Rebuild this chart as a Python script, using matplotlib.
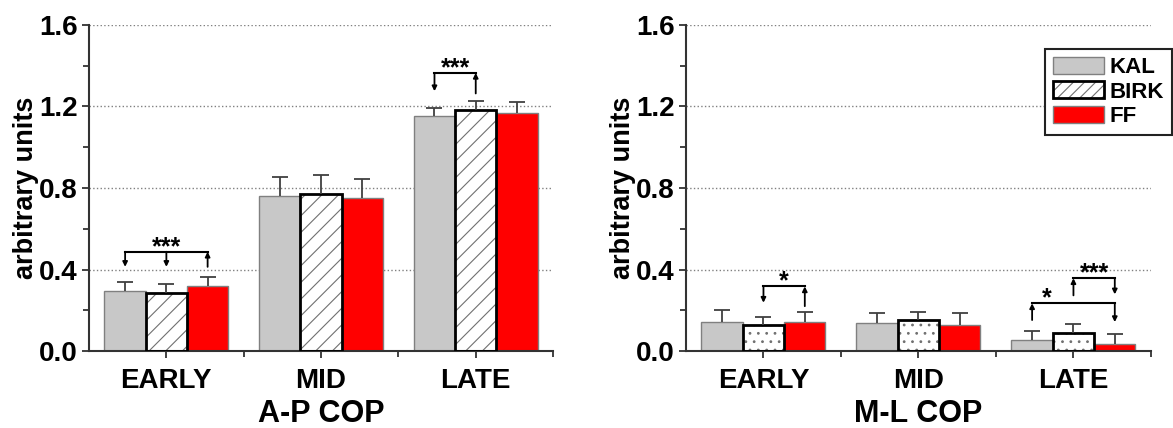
import matplotlib.pyplot as plt
from matplotlib.legend_handler import HandlerTuple
from matplotlib.patches import Patch
import numpy as np

plt.rcParams['font.family'] = ['Liberation Sans', 'DejaVu Sans']
plt.rcParams['font.weight'] = 'bold'
plt.rcParams['hatch.linewidth'] = 0.8

phases = ["EARLY", "MID", "LATE"]
groups = ["KAL", "BIRK", "FF"]

# A-P COP means / upper errors
ap_kal = [0.295, 0.760, 1.155]
ap_birk = [0.285, 0.770, 1.183]
ap_ff = [0.321, 0.753, 1.169]
ap_kal_err = [0.044, 0.094, 0.040]
ap_birk_err = [0.042, 0.096, 0.043]
ap_ff_err = [0.040, 0.090, 0.052]

# M-L COP means / upper errors
ml_kal = [0.142, 0.136, 0.054]
ml_birk = [0.128, 0.151, 0.088]
ml_ff = [0.142, 0.130, 0.033]
ml_kal_err = [0.058, 0.052, 0.044]
ml_birk_err = [0.041, 0.042, 0.045]
ml_ff_err = [0.051, 0.055, 0.049]

# significance brackets: (phase index, groups joined, bracket height, arrow ends, arrow dirs, label)
ap_sig = [
    (0, [0, 1, 2], 0.487, [0.413, 0.413, 0.413], ["down", "down", "up"], "***"),
    (2, [0, 1], 1.365, [1.275, 1.264], ["down", "up"], "***"),
]
ml_sig = [
    (0, [1, 2], 0.317, [0.237, 0.220], ["down", "up"], "*"),
    (2, [0, 2], 0.234, [0.152, 0.142], ["up", "down"], "*"),
    (2, [1, 2], 0.357, [0.273, 0.278], ["up", "down"], "***"),
]

W = 0.8 / 3
SPINE = '#333333'


def bar_x(phase, g):
    return phase + 1 + (g - 1) * W


def draw_bracket(ax, phase, gs, y, ends, dirs, label, label_dx=0.0):
    xs = [bar_x(phase, g) for g in gs]
    ax.plot([min(xs), max(xs)], [y, y], color='black', lw=1.5, zorder=5)
    for x, e, d in zip(xs, ends, dirs):
        if d == "down":
            head, tail = (x, e), (x, y)
        else:
            head, tail = (x, y), (x, e)
        ax.annotate('', xy=head, xytext=tail,
                    arrowprops=dict(arrowstyle='-|>', lw=1.3, color='black',
                                    mutation_scale=7, shrinkA=0, shrinkB=0),
                    zorder=5)
    ax.annotate(label, xy=((min(xs) + max(xs)) / 2 + label_dx, y), xytext=(0, -1.5),
                textcoords='offset points', ha='center', va='baseline',
                fontsize=18, fontweight='bold')


def draw_panel(ax, kal, birk, ff, kal_e, birk_e, ff_e, hatch, xlabel, sigs):
    x = np.arange(1, 4)
    h1 = ax.bar(x - W, kal, W, color='#c8c8c8', edgecolor='#808080', lw=1, zorder=2)
    h2a = ax.bar(x, birk, W, color='white', edgecolor='#707070', hatch=hatch, lw=0, zorder=2)
    h2b = ax.bar(x, birk, W, fill=False, edgecolor='black', lw=2, zorder=3)
    h3 = ax.bar(x + W, ff, W, color='#ff0000', edgecolor='#808080', lw=1, zorder=2)
    for off, m, e in [(-W, kal, kal_e), (0, birk, birk_e), (W, ff, ff_e)]:
        _, caps, _ = ax.errorbar(x + off, m, yerr=[np.zeros(3), e], fmt='none',
                                 ecolor='#404040', elinewidth=1.3, capsize=6,
                                 capthick=1.3, zorder=4)
        caps[0].set_visible(False)  # only the upper cap

    ax.set_xlim(0.5, 3.5)
    ax.set_ylim(0, 1.6)
    ax.set_yticks(np.arange(0, 1.61, 0.4))
    ax.set_yticks(np.arange(0.2, 1.6, 0.4), minor=True)
    ax.set_yticklabels([f"{v:.1f}" for v in np.arange(0, 1.61, 0.4)])
    ax.set_xticks(x)
    ax.set_xticks([1.5, 2.5, 3.5], minor=True)
    ax.set_xticklabels(phases)
    ax.yaxis.grid(True, linestyle=':', color='#808080', lw=1)
    ax.set_axisbelow(True)

    for s in ['top', 'right']:
        ax.spines[s].set_visible(False)
    for s in ['left', 'bottom']:
        ax.spines[s].set_color(SPINE)
        ax.spines[s].set_linewidth(1.5)
    ax.tick_params(axis='both', which='both', direction='out', color=SPINE, width=1.3)
    ax.tick_params(axis='both', which='major', length=5)
    ax.tick_params(axis='both', which='minor', length=4)
    ax.tick_params(axis='y', labelsize=20, pad=3)
    ax.tick_params(axis='x', labelsize=20, pad=7)
    for t in ax.get_xticklabels() + ax.get_yticklabels():
        t.set_fontweight('bold')

    ax.set_ylabel("arbitrary units", fontsize=19.5, fontweight='bold', labelpad=0)
    ax.set_xlabel(xlabel, fontsize=22, fontweight='bold', labelpad=4)

    for phase, gs, y, ends, dirs, label in sigs:
        dx = -0.17 if (label == "*" and gs == [0, 2]) else 0.0
        draw_bracket(ax, phase, gs, y, ends, dirs, label, dx)
    return h1, (h2a, h2b), h3


fig = plt.figure(figsize=(11.73, 4.28), dpi=100)
ax1 = fig.add_axes([0.0759, 0.1799, 0.3956, 0.7617])
ax2 = fig.add_axes([0.5848, 0.1799, 0.3964, 0.7617])

draw_panel(ax1, ap_kal, ap_birk, ap_ff, ap_kal_err, ap_birk_err, ap_ff_err,
           '//', "A-P COP", ap_sig)
draw_panel(ax2, ml_kal, ml_birk, ml_ff, ml_kal_err, ml_birk_err, ml_ff_err,
           '..', "M-L COP", ml_sig)

lh1 = Patch(facecolor='#c8c8c8', edgecolor='#808080', lw=1)
lh2a = Patch(facecolor='white', edgecolor='#707070', hatch='///', lw=0)
lh2b = Patch(fill=False, edgecolor='black', lw=2)
lh3 = Patch(facecolor='#ff0000', edgecolor='#808080', lw=1)
leg = ax2.legend([lh1, (lh2a, lh2b), lh3], groups,
                 handler_map={tuple: HandlerTuple(ndivide=1)},
                 loc='upper right', bbox_to_anchor=(0.999, 0.886),
                 bbox_transform=fig.transFigure, borderaxespad=0,
                 handlelength=2.3, handleheight=0.8,
                 labelspacing=0.16, handletextpad=0.25, borderpad=0.35,
                 fancybox=False, framealpha=1, edgecolor='#222222',
                 prop={'weight': 'bold', 'size': 16})
leg.get_frame().set_linewidth(1.5)

fig.savefig("out.png", dpi=100)
